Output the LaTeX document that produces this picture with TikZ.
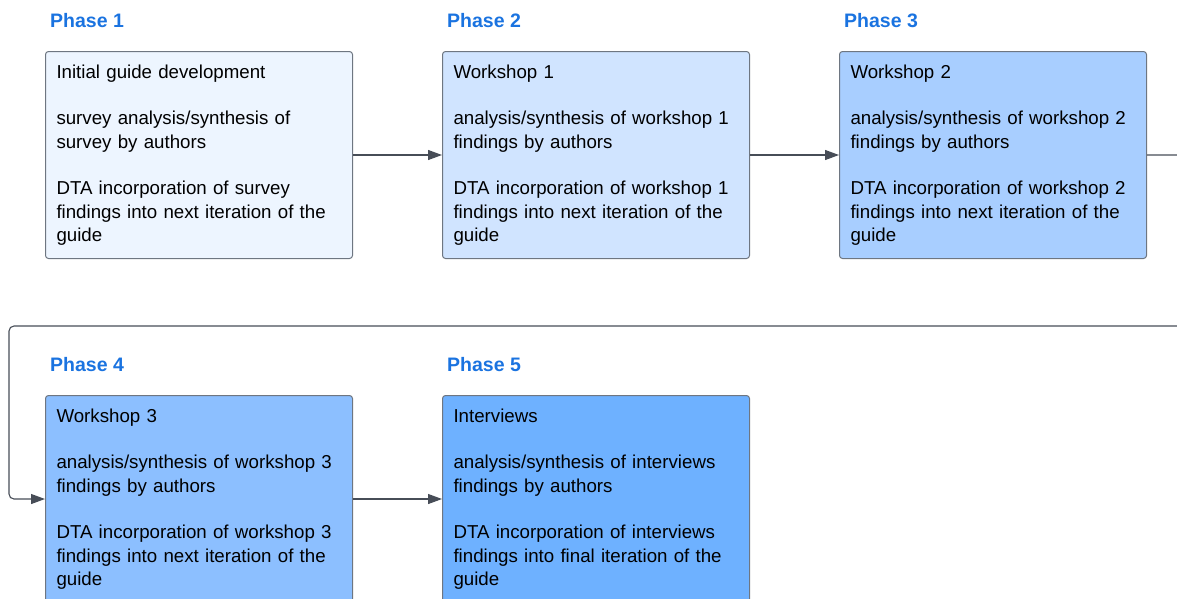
\documentclass[tikz,border=0pt]{standalone}
\usepackage{fontspec}
\setmainfont{Liberation Sans}
\usetikzlibrary{arrows.meta,positioning}
\definecolor{phaseblue}{HTML}{1A73E0}
\definecolor{linegrey}{HTML}{474D57}
\definecolor{boxedge}{HTML}{6E7681}
\definecolor{fillA}{HTML}{EDF5FF}
\definecolor{fillB}{HTML}{D0E4FF}
\definecolor{fillC}{HTML}{A8CEFF}
\definecolor{fillD}{HTML}{8CBFFF}
\definecolor{fillE}{HTML}{6EB1FF}
\tikzset{phase box/.style={rectangle,draw=boxedge,line width=1pt,rounded corners=3pt,text width=285pt,inner xsep=11pt,inner ysep=0pt,minimum height=207pt,align=left,font=\fontsize{18.7}{23.3}\selectfont},
         phase title/.style={inner sep=0pt,text=phaseblue,font=\fontsize{19.5}{22}\selectfont\bfseries},
         flow/.style={draw=linegrey,line width=1.1pt,->}
}

\begin{document}
\begin{tikzpicture}[x=1pt,y=-1pt,>={Triangle[length=14pt,width=10pt]},
node distance = 89pt]
\clip (0,0) rectangle (1177,598);

\node [phase box, fill=fillA, anchor=north west] (p1) at (45,51) {Initial guide development\\[23.3pt]
    survey analysis/synthesis of\\ survey by authors\\[23.3pt]
    DTA incorporation of survey\\ findings into next iteration of the\\ guide};
\node [phase box, fill=fillB, right=of p1] (p2) {Workshop 1\\[23.3pt]
    analysis/synthesis of workshop 1\\ findings by authors\\[23.3pt]
    DTA incorporation of workshop 1\\ findings into next iteration of the\\ guide};
\node [phase box, fill=fillC, right=of p2] (p3) {Workshop 2\\[23.3pt]
    analysis/synthesis of workshop 2\\ findings by authors\\[23.3pt]
    DTA incorporation of workshop 2\\ findings into next iteration of the\\ guide};
\node [phase box, fill=fillD, below=136pt of p1] (p4) {Workshop 3\\[23.3pt]
    analysis/synthesis of workshop 3\\ findings by authors\\[23.3pt]
    DTA incorporation of workshop 3\\ findings into next iteration of the\\ guide};
\node [phase box, fill=fillE, right=of p4] (p5) {Interviews\\[23.3pt]
    analysis/synthesis of interviews\\ findings by authors\\[23.3pt]
    DTA incorporation of interviews\\ findings into final iteration of the\\ guide};

% phase titles
\foreach \n in {1,...,5}{
    \node [phase title, above=23pt of p\n.north west, anchor=south west, xshift=5pt] (t\n) {Phase \n};
}

\draw [flow] (p1) -- (p2);
\draw [flow] (p2) -- (p3);
\draw [flow] (p4) -- (p5);

% wrap round to the second row
\coordinate (bendR) at (1195,326);
\coordinate (bendL) at (9,326);
\draw [flow, rounded corners=5pt] (p3.east) -| (bendR) -- (bendL) |- (p4.west);
\end{tikzpicture}
\end{document}
